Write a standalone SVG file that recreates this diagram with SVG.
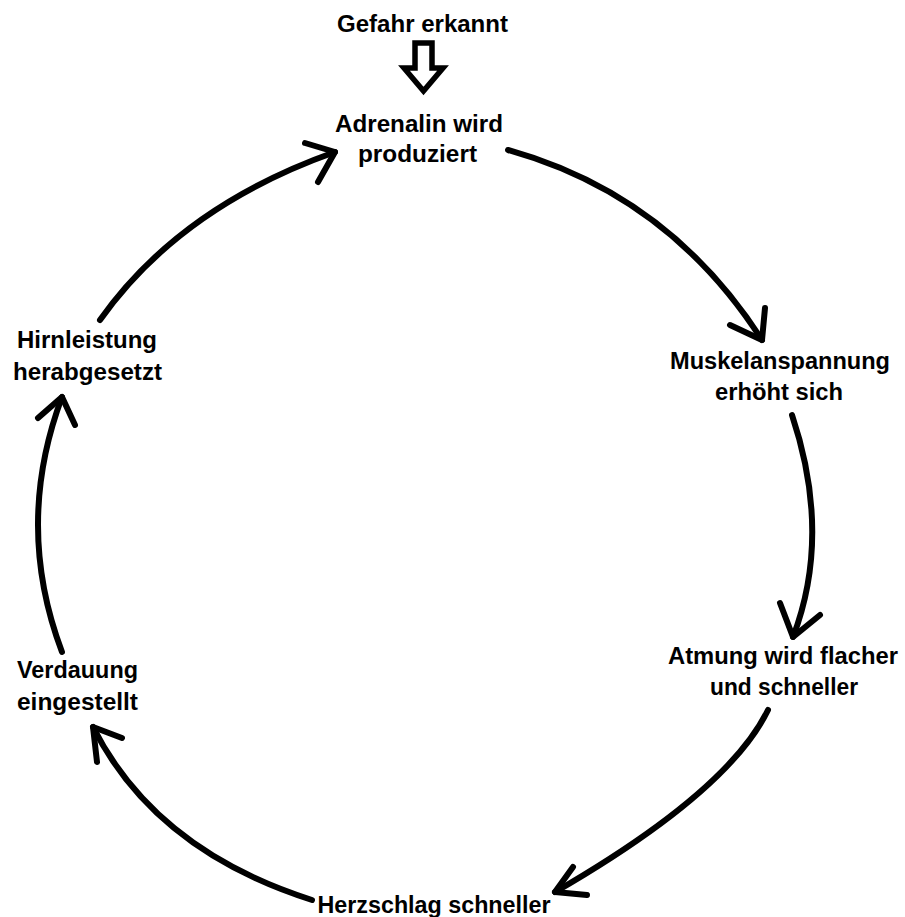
<svg xmlns="http://www.w3.org/2000/svg" width="905" height="917" viewBox="0 0 905 917">
<style>
  text { font-family: "Liberation Sans", Arial, sans-serif; font-weight: bold; font-size: 23px; fill: #000; text-anchor: middle; }
  .arc { fill: none; stroke: #000; stroke-width: 6; stroke-linecap: round; }
  .head { fill: none; stroke: #000; stroke-width: 6; stroke-linecap: round; stroke-linejoin: round; }
  .hollow { fill: #fff; stroke: #000; stroke-width: 5.5; stroke-linejoin: miter; }
</style>
<rect width="905" height="917" fill="#fff"/>
<g id="connectors">
  <polygon class="hollow" points="415,43 432,43 432,68 443,68 423.5,91 404,68 415,68"/>
  <path class="arc" d="M508,150 Q669,195 762,340"/>
  <polyline class="head" points="765,308 762,340 730,325"/>
  <path class="arc" d="M792,415 Q832,535 793,637"/>
  <polyline class="head" points="780,603 793,637 820,615"/>
  <path class="arc" d="M768,710 Q728,792 555,892"/>
  <polyline class="head" points="573,867 555,892 587,895"/>
  <path class="arc" d="M312,900 Q155,850 93,727"/>
  <polyline class="head" points="122,738 93,727 97,762"/>
  <path class="arc" d="M62,652 Q14,525 62,397"/>
  <polyline class="head" points="38,418 62,397 75,425"/>
  <path class="arc" d="M100,320 Q180,207 335,152"/>
  <polyline class="head" points="305,143 335,152 318,182"/>
</g>
<g id="node-gefahr">
  <text x="422.5" y="32" textLength="171" lengthAdjust="spacingAndGlyphs">Gefahr erkannt</text>
</g>
<g id="node-adrenalin">
  <text x="419" y="132" textLength="168" lengthAdjust="spacingAndGlyphs">Adrenalin wird</text>
  <text x="417.5" y="162" textLength="119" lengthAdjust="spacingAndGlyphs">produziert</text>
</g>
<g id="node-muskel">
  <text x="780" y="369" textLength="220" lengthAdjust="spacingAndGlyphs">Muskelanspannung</text>
  <text x="779" y="400" textLength="128" lengthAdjust="spacingAndGlyphs">erhöht sich</text>
</g>
<g id="node-atmung">
  <text x="783" y="664" textLength="230" lengthAdjust="spacingAndGlyphs">Atmung wird flacher</text>
  <text x="784" y="695" textLength="148" lengthAdjust="spacingAndGlyphs">und schneller</text>
</g>
<g id="node-herz">
  <text x="434" y="913" textLength="233" lengthAdjust="spacingAndGlyphs">Herzschlag schneller</text>
</g>
<g id="node-verdauung">
  <text x="77.5" y="678" textLength="121" lengthAdjust="spacingAndGlyphs">Verdauung</text>
  <text x="77.5" y="710" textLength="121" lengthAdjust="spacingAndGlyphs">eingestellt</text>
</g>
<g id="node-hirn">
  <text x="87" y="348" textLength="140" lengthAdjust="spacingAndGlyphs">Hirnleistung</text>
  <text x="87.5" y="380" textLength="149" lengthAdjust="spacingAndGlyphs">herabgesetzt</text>
</g>
</svg>
